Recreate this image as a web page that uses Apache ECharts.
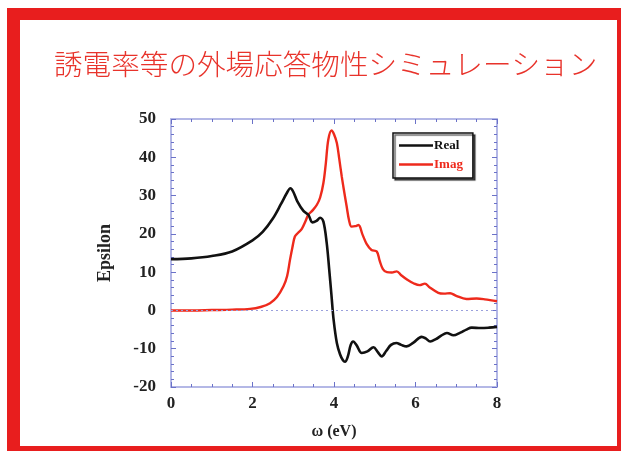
<!DOCTYPE html>
<html>
<head>
<meta charset="utf-8">
<script src="https://cdn.jsdelivr.net/npm/echarts@6/dist/echarts.min.js"></script>
<style>
html,body{margin:0;padding:0;background:#fff;}
#c{width:621px;height:453px;}
</style>
</head>
<body>
<div id="c"></div>
<script>
var titleText = '誘電率等の外場応答物性シミュレーション';
var seriesNames = ['Real', 'Imag'];
var xTicks = [0, 2, 4, 6, 8];
var yTicks = [-20, -10, 0, 10, 20, 30, 40, 50];

var realX = [0, 0.5, 1, 1.5, 2, 2.25, 2.5, 2.7, 2.85, 2.93, 3.0, 3.1, 3.25, 3.37, 3.47, 3.57, 3.66, 3.74, 3.82, 3.88, 3.94, 3.99, 4.07, 4.15, 4.22, 4.27, 4.34, 4.41, 4.47, 4.56, 4.68, 4.82, 4.97, 5.07, 5.17, 5.28, 5.4, 5.53, 5.65, 5.78, 5.95, 6.15, 6.25, 6.36, 6.5, 6.63, 6.77, 6.93, 7.1, 7.25, 7.38, 7.6, 7.8, 8];
var realY = [13.4, 13.6, 14.2, 15.4, 18.3, 20.5, 24.0, 27.8, 30.8, 31.9, 31.0, 28.5, 26.0, 25.0, 23.0, 23.4, 24.2, 23.2, 17.7, 11.0, 3.7, -2.4, -8.5, -11.5, -13.0, -13.4, -12.0, -9.0, -8.1, -9.2, -11.1, -10.7, -9.6, -10.8, -12.0, -10.6, -9.0, -8.5, -9.0, -9.4, -8.4, -6.9, -7.3, -8.1, -7.5, -6.6, -5.9, -6.5, -5.8, -5.0, -4.5, -4.6, -4.5, -4.3];

var imagX = [0, 0.5, 1, 1.5, 1.94, 2.2, 2.43, 2.6, 2.76, 2.85, 2.92, 2.98, 3.04, 3.12, 3.21, 3.3, 3.37, 3.48, 3.58, 3.66, 3.74, 3.8, 3.86, 3.94, 4.0, 4.07, 4.13, 4.19, 4.25, 4.31, 4.37, 4.43, 4.52, 4.6, 4.7, 4.8, 4.92, 5.05, 5.12, 5.2, 5.3, 5.42, 5.54, 5.65, 5.8, 5.95, 6.1, 6.23, 6.35, 6.56, 6.7, 6.85, 7.0, 7.25, 7.5, 7.7, 8];
var imagY = [0, 0, 0.1, 0.2, 0.4, 0.9, 1.9, 3.5, 6.3, 9.0, 13.2, 16.5, 19.3, 20.3, 21.3, 23.3, 25.0, 26.2, 27.6, 29.5, 33.3, 38.5, 44.6, 47.0, 46.0, 43.7, 39.5, 35.0, 31.0, 27.2, 23.5, 21.9, 22.0, 22.3, 19.8, 17.4, 15.8, 15.4, 13.0, 10.8, 10.0, 9.9, 10.2, 9.2, 8.0, 7.1, 6.6, 7.0, 6.0, 4.6, 4.4, 4.5, 3.8, 3.0, 3.1, 2.9, 2.4];

function pairs(xs, ys) { return xs.map(function (x, i) { return [x, ys[i]]; }); }

var axisBlue = '#b4b8e6';
var tickBlue = '#6b72c8';
var serif = '"Liberation Serif", "DejaVu Serif", serif';
var realColor = '#111';
var imagColor = '#ee2a1c';

var chart = echarts.init(document.getElementById('c'), null, {renderer: 'canvas'});

function baseX(pos, showLabels) {
  return {
    type: 'value', position: pos, min: xTicks[0], max: xTicks[xTicks.length - 1], interval: 2,
    axisLine: {show: true, onZero: false, lineStyle: {color: axisBlue, width: 2}},
    axisTick: {show: true, inside: true, length: 5, lineStyle: {color: tickBlue, width: 1}},
    minorTick: {show: true, splitNumber: 4, length: 3, lineStyle: {color: tickBlue, width: 1}},
    axisLabel: {show: showLabels, color: '#222', fontFamily: serif, fontWeight: 'bold', fontSize: 17, margin: 8},
    splitLine: {show: false}
  };
}
function baseY(pos, showLabels) {
  return {
    type: 'value', position: pos, min: yTicks[0], max: yTicks[yTicks.length - 1], interval: 10,
    axisLine: {show: true, onZero: false, lineStyle: {color: axisBlue, width: 2}},
    axisTick: {show: true, inside: true, length: 5, lineStyle: {color: tickBlue, width: 1}},
    minorTick: {show: true, splitNumber: 5, length: 3, lineStyle: {color: tickBlue, width: 1}},
    axisLabel: {show: showLabels, color: '#222', fontFamily: serif, fontWeight: 'bold', fontSize: 17, margin: 15},
    splitLine: {show: false}
  };
}

var xb = baseX('bottom', true);
xb.name = 'ω (eV)'; xb.nameLocation = 'middle'; xb.nameGap = 37;
xb.nameTextStyle = {color: '#222', fontFamily: serif, fontWeight: 'bold', fontSize: 16};
var xt = baseX('top', false);
var yl = baseY('left', true);
yl.name = 'Epsilon'; yl.nameLocation = 'middle'; yl.nameGap = 57;
yl.nameTextStyle = {color: '#222', fontFamily: serif, fontWeight: 'bold', fontSize: 18};
var yr = baseY('right', false);

chart.setOption({
  animation: false,
  backgroundColor: '#fff',
  title: {
    text: titleText, left: 49, top: 45,
    textStyle: {color: '#e8332b', fontSize: 28.6, fontWeight: 300, fontFamily: '"Noto Sans CJK JP", sans-serif'}
  },
  grid: {left: 171, right: 124, top: 119, bottom: 66, containLabel: false},
  legend: {
    data: [
      {name: seriesNames[0], textStyle: {color: realColor}},
      {name: seriesNames[1], textStyle: {color: imagColor}}
    ],
    orient: 'vertical', left: 393, top: 133,
    itemWidth: 34, itemHeight: 10, itemGap: 6,
    padding: [6, 10, 7, 6],
    borderColor: '#111', borderWidth: 1.5, backgroundColor: '#fff',
    shadowColor: 'rgba(0,0,0,0.6)', shadowOffsetX: 2, shadowOffsetY: 2, shadowBlur: 1,
    textStyle: {fontFamily: serif, fontWeight: 'bold', fontSize: 13, padding: [0, 0, 0, -4]},
    icon: 'path://M0,0 L34,0 L34,2.5 L0,2.5 Z'
  },
  xAxis: [xb, xt],
  yAxis: [yl, yr],
  series: [
    {
      name: seriesNames[0], type: 'line', data: pairs(realX, realY), smooth: 0.35,
      symbol: 'none', lineStyle: {color: realColor, width: 2.6}, itemStyle: {color: realColor},
      markLine: {
        silent: true, symbol: 'none', label: {show: false},
        lineStyle: {color: '#9aa0dc', type: [2, 3], width: 1},
        data: [{yAxis: 0}]
      },
      z: 3
    },
    {
      name: seriesNames[1], type: 'line', data: pairs(imagX, imagY), smooth: 0.35,
      symbol: 'none', lineStyle: {color: imagColor, width: 2.4}, itemStyle: {color: imagColor},
      z: 2
    }
  ],
  graphic: [
    {type: 'rect', shape: {x: 7, y: 8, width: 614, height: 12}, style: {fill: '#e81e1e'}, silent: true},
    {type: 'rect', shape: {x: 7, y: 8, width: 13, height: 443}, style: {fill: '#e81e1e'}, silent: true},
    {type: 'rect', shape: {x: 7, y: 446, width: 614, height: 5}, style: {fill: '#e81e1e'}, silent: true},
    {type: 'rect', shape: {x: 617, y: 8, width: 4, height: 443}, style: {fill: '#e81e1e'}, silent: true}
  ]
});
</script>
</body>
</html>
